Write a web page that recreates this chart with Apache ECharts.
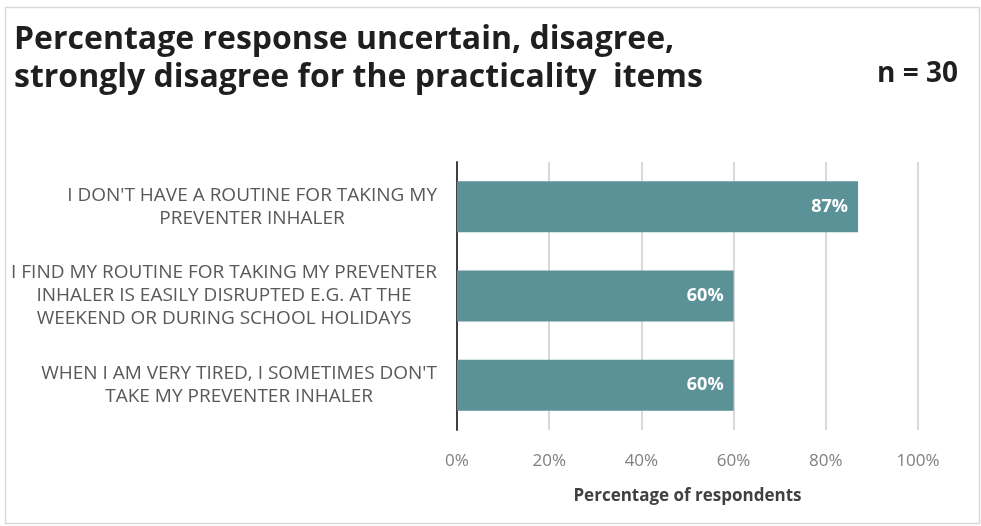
<!DOCTYPE html>
<html>
<head>
<meta charset="utf-8">
<script src="https://cdn.jsdelivr.net/npm/echarts@6/dist/echarts.min.js"></script>
<style>
  html, body { margin: 0; padding: 0; background: #fff; }
  #chart { width: 981px; height: 526px; }
</style>
</head>
<body>
<div id="chart"></div>
<script>
var categories = [
    "I DON'T HAVE A ROUTINE FOR TAKING MY\nPREVENTER INHALER",
    "I FIND MY ROUTINE FOR TAKING MY PREVENTER\nINHALER IS EASILY DISRUPTED E.G. AT THE\nWEEKEND OR DURING SCHOOL HOLIDAYS",
    "WHEN I AM VERY TIRED, I SOMETIMES DON'T\nTAKE MY PREVENTER INHALER"
];
var values = [87, 60, 60];
var xTicks = [0, 20, 40, 60, 80, 100];

var titleLines = 'Percentage response uncertain, disagree,\nstrongly disagree for the practicality  items';
var sampleText = 'n = 30';
var axisName = 'Percentage of respondents';

var myChart = echarts.init(document.getElementById('chart'));

var option = {
    backgroundColor: '#fff',
    animation: false,
    graphic: [{
        type: 'rect',
        left: 3, top: 5,
        shape: { width: 974, height: 516 },
        style: { fill: 'none', stroke: '#d9d9d9', lineWidth: 1.5 },
        silent: true
    }],
    title: [{
        text: titleLines,
        left: 9,
        top: 16,
        textStyle: {
            fontFamily: 'Open Sans',
            fontWeight: 'bold',
            fontSize: 32,
            lineHeight: 38,
            color: '#1f1f1f'
        }
    }, {
        text: sampleText,
        right: 18,
        top: 55,
        textStyle: {
            fontFamily: 'Open Sans',
            fontWeight: 'bold',
            fontSize: 28,
            color: '#1f1f1f'
        }
    }],
    grid: {
        left: 457,
        right: 63,
        top: 162,
        bottom: 96,
        containLabel: false
    },
    xAxis: {
        type: 'value',
        min: xTicks[0],
        max: xTicks[xTicks.length - 1],
        interval: 20,
        axisLine: { show: false },
        axisTick: { show: false },
        axisLabel: {
            formatter: '{value}%',
            color: '#7f7f7f',
            fontFamily: 'Open Sans',
            fontSize: 17,
            margin: 23
        },
        splitLine: { show: true, lineStyle: { color: '#d9d9d9', width: 2 } },
        name: axisName,
        nameLocation: 'middle',
        nameGap: 58,
        nameTextStyle: {
            color: '#404040',
            fontFamily: 'Open Sans',
            fontWeight: 'bold',
            fontSize: 17
        }
    },
    yAxis: {
        type: 'category',
        inverse: true,
        data: categories,
        axisLine: { show: true, lineStyle: { color: '#404040', width: 2 } },
        axisTick: { show: false },
        axisLabel: {
            margin: 20,
            align: 'right',
            formatter: function (value) {
                return value.split('\n').map(function (s) { return '{c|' + s + '}'; }).join('\n');
            },
            rich: {
                c: {
                    align: 'center',
                    color: '#595959',
                    fontFamily: 'Open Sans',
                    fontSize: 19,
                    lineHeight: 23
                }
            }
        }
    },
    series: [{
        type: 'bar',
        data: values,
        barCategoryGap: '43%',
        itemStyle: { color: '#5a9298' },
        label: {
            show: true,
            position: 'insideRight',
            distance: 10,
            formatter: '{c}%',
            color: '#ffffff',
            fontFamily: 'Open Sans',
            fontWeight: 'bold',
            fontSize: 18
        }
    }]
};

myChart.setOption(option);
</script>
</body>
</html>
